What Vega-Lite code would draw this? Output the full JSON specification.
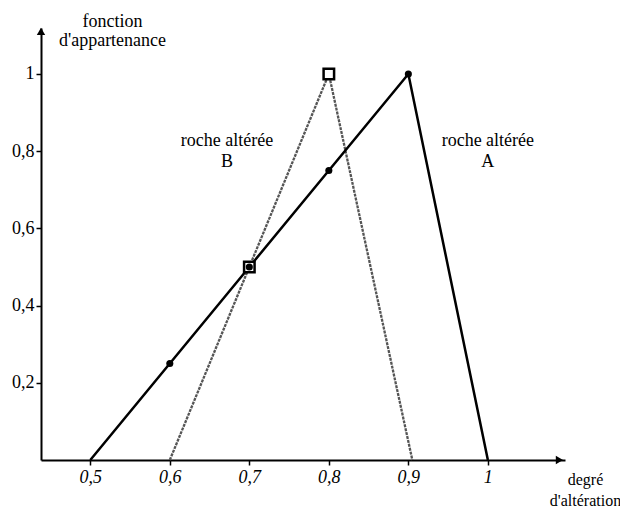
{
  "$schema": "https://vega.github.io/schema/vega-lite/v6.json",
  "width": 524,
  "height": 432,
  "autosize": {"type": "none"},
  "padding": {"left": 41, "top": 28, "right": 55, "bottom": 48},
  "background": "white",
  "config": {
    "view": {"stroke": null},
    "font": "Liberation Serif, Times New Roman, serif",
    "axis": {"grid": false, "domainColor": "black", "domainWidth": 2, "tickColor": "black", "tickWidth": 1.5, "tickSize": 5, "labelColor": "black", "labelFont": "Liberation Serif, Times New Roman, serif", "labelFontSize": 18, "titleFont": "Liberation Serif, Times New Roman, serif", "titleFontSize": 18, "titleFontWeight": "normal", "titleColor": "black"}
  },
  "datasets": {
    "curves": [
      {"serie": "A", "x": 0.5, "y": 0, "marker": false},
      {"serie": "A", "x": 0.6, "y": 0.25, "marker": true},
      {"serie": "A", "x": 0.7, "y": 0.5, "marker": true},
      {"serie": "A", "x": 0.8, "y": 0.75, "marker": true},
      {"serie": "A", "x": 0.9, "y": 1, "marker": true},
      {"serie": "A", "x": 1.0, "y": 0, "marker": false},
      {"serie": "B", "x": 0.6, "y": 0, "marker": false},
      {"serie": "B", "x": 0.7, "y": 0.5, "marker": true},
      {"serie": "B", "x": 0.8, "y": 1, "marker": true},
      {"serie": "B", "x": 0.905, "y": 0, "marker": false}
    ],
    "single": [{}]
  },
  "layer": [
    {
      "data": {"name": "curves"},
      "transform": [{"filter": "datum.serie == 'B'"}],
      "mark": {"type": "line", "color": "#555555", "strokeWidth": 2.3, "strokeDash": [3, 1]},
      "encoding": {
        "x": {
          "field": "x", "type": "quantitative",
          "scale": {"domain": [0.438, 1.097], "nice": false, "zero": false},
          "axis": {
            "values": [0.5, 0.6, 0.7, 0.8, 0.9, 1],
            "labelExpr": "datum.value == 1 ? '1' : replace(format(datum.value, '.1f'), '.', ',')",
            "labelFontStyle": "italic",
            "labelPadding": 3,
            "title": ["degré", "d'altération"],
            "titleFontSize": 16,
            "titleAngle": 0,
            "titleAlign": "center",
            "titleBaseline": "top",
            "titleX": 544,
            "titleY": 11,
            "titleLineHeight": 21
          }
        },
        "y": {
          "field": "y", "type": "quantitative",
          "scale": {"domain": [0, 1.119], "nice": false, "zero": false},
          "axis": {
            "values": [0.2, 0.4, 0.6, 0.8, 1],
            "labelExpr": "datum.value == 1 ? '1' : replace(format(datum.value, '.1f'), '.', ',')",
            "labelPadding": 2,
            "title": ["fonction", "d'appartenance"],
            "titleAngle": 0,
            "titleAlign": "center",
            "titleBaseline": "top",
            "titleX": 71,
            "titleY": -16,
            "titleLineHeight": 19
          }
        },
        "order": {"field": "x"}
      }
    },
    {
      "data": {"name": "curves"},
      "transform": [{"filter": "datum.serie == 'A'"}],
      "mark": {"type": "line", "color": "black", "strokeWidth": 2.5},
      "encoding": {
        "x": {"field": "x", "type": "quantitative"},
        "y": {"field": "y", "type": "quantitative"},
        "order": {"field": "x"}
      }
    },
    {
      "data": {"name": "curves"},
      "transform": [{"filter": "datum.serie == 'B' && datum.marker"}],
      "mark": {"type": "point", "shape": "square", "filled": false, "fill": "white", "stroke": "black", "strokeWidth": 2.5, "size": 110, "opacity": 1},
      "encoding": {
        "x": {"field": "x", "type": "quantitative"},
        "y": {"field": "y", "type": "quantitative"}
      }
    },
    {
      "data": {"name": "curves"},
      "transform": [{"filter": "datum.serie == 'A' && datum.marker"}],
      "mark": {"type": "point", "shape": "circle", "filled": true, "color": "black", "size": 50, "opacity": 1},
      "encoding": {
        "x": {"field": "x", "type": "quantitative"},
        "y": {"field": "y", "type": "quantitative"}
      }
    },
    {
      "data": {"name": "single"},
      "mark": {"type": "point", "shape": "triangle-right", "filled": true, "color": "black", "size": 70, "opacity": 1},
      "encoding": {"x": {"datum": 1.09}, "y": {"datum": 0}}
    },
    {
      "data": {"name": "single"},
      "mark": {"type": "point", "shape": "triangle-up", "filled": true, "color": "black", "size": 70, "opacity": 1},
      "encoding": {"x": {"datum": 0.438}, "y": {"datum": 1.11}}
    },
    {
      "data": {"name": "single"},
      "mark": {"type": "text", "text": ["roche altérée", "B"], "font": "Liberation Serif, Times New Roman, serif", "fontSize": 18, "align": "center", "baseline": "middle", "lineHeight": 21, "color": "black"},
      "encoding": {"x": {"datum": 0.672}, "y": {"datum": 0.826}}
    },
    {
      "data": {"name": "single"},
      "mark": {"type": "text", "text": ["roche altérée", "A"], "font": "Liberation Serif, Times New Roman, serif", "fontSize": 18, "align": "center", "baseline": "middle", "lineHeight": 21, "color": "black"},
      "encoding": {"x": {"datum": 1.0}, "y": {"datum": 0.826}}
    }
  ]
}
